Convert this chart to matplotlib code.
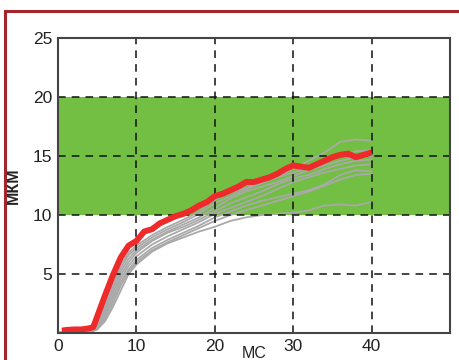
import matplotlib
matplotlib.use("Agg")
import matplotlib.pyplot as plt
from matplotlib.lines import Line2D

plt.rcParams['font.family'] = ['Liberation Sans', 'DejaVu Sans']

# ---- data ----
red_x = [0.5, 1, 2, 3, 4, 4.5, 5, 6, 7, 8, 9, 10, 11, 12, 13, 14, 15, 16, 17, 18, 19, 20,
         21, 22, 23, 24, 25, 26, 27, 28, 29, 30, 31, 32, 33, 34, 35, 36, 37, 38, 39, 40]
red_y = [0.2, 0.25, 0.3, 0.3, 0.4, 0.5, 1.4, 3.2, 4.9, 6.4, 7.4, 7.8, 8.6, 8.8, 9.3, 9.6, 9.9,
         10.1, 10.4, 10.8, 11.1, 11.6, 11.8, 12.1, 12.4, 12.8, 12.8, 13.0, 13.2, 13.5, 13.9,
         14.2, 14.1, 14.0, 14.3, 14.6, 14.9, 15.1, 15.2, 14.9, 15.1, 15.3]

grey_x = [0.3, 4, 5, 6, 7, 8, 9, 10, 12, 14, 16, 18, 20, 22, 24, 26, 28, 30, 32, 34, 36, 38, 40]
grey_1 = [0.1, 0.3, 0.9, 2.6, 4.3, 5.8, 6.8, 7.4, 8.3, 9.0, 9.6, 10.3, 11.3, 11.9, 12.3, 12.8, 13.3, 13.9, 14.6, 15.3, 16.2, 16.4, 16.3]
grey_2 = [0.05, 0.2, 0.7, 2.3, 4.0, 5.5, 6.6, 7.2, 8.1, 8.8, 9.4, 10.1, 11.0, 11.6, 12.2, 12.7, 13.2, 13.6, 14.0, 14.6, 15.1, 15.4, 15.5]
grey_3 = [0.0, 0.15, 0.6, 2.0, 3.7, 5.2, 6.3, 7.0, 7.9, 8.6, 9.2, 9.8, 10.6, 11.4, 12.0, 12.4, 12.8, 13.3, 13.8, 14.2, 14.6, 14.9, 15.0]
grey_4 = [0.0, 0.1, 0.5, 1.8, 3.4, 4.9, 6.0, 6.8, 7.8, 8.5, 9.0, 9.6, 10.3, 11.0, 11.5, 12.0, 12.6, 13.1, 13.4, 13.9, 14.3, 14.6, 14.7]
grey_5 = [0.0, 0.1, 0.4, 1.6, 3.1, 4.6, 5.7, 6.5, 7.5, 8.2, 8.8, 9.4, 10.1, 10.6, 11.1, 11.6, 12.2, 12.8, 13.2, 13.6, 13.9, 14.2, 14.3]
grey_6 = [0.0, 0.08, 0.35, 1.4, 2.8, 4.3, 5.4, 6.2, 7.2, 7.9, 8.5, 9.1, 9.8, 10.3, 10.8, 11.2, 11.5, 11.8, 12.1, 12.6, 13.4, 13.8, 13.7]
grey_7 = [0.0, 0.05, 0.3, 1.2, 2.5, 4.0, 5.2, 6.0, 7.0, 7.7, 8.3, 8.9, 9.5, 10.0, 10.4, 10.8, 11.2, 11.6, 12.0, 12.5, 13.0, 13.4, 13.5]
grey_8 = [0.0, 0.05, 0.3, 1.0, 2.2, 3.6, 5.0, 5.8, 6.9, 7.6, 8.1, 8.6, 9.0, 9.5, 9.8, 10.0, 10.1, 10.2, 10.4, 10.8, 10.9, 10.8, 11.1]
greys = [grey_1, grey_2, grey_3, grey_4, grey_5, grey_6, grey_7, grey_8]

band_low, band_high = 10, 20
x_ticks = [0, 10, 20, 30, 40]
y_ticks = [5, 10, 15, 20, 25]

# ---- figure ----
fig = plt.figure(figsize=(4.59, 3.60), dpi=100)
ax = fig.add_axes([58/459, 1-333/360, (450-58)/459, (333-38)/360])

ax.axhspan(band_low, band_high, color='#72BF44', zorder=0, lw=0)
for g in greys:
    ax.plot(grey_x, g, color='#A9A9A9', lw=1.3, zorder=2)
ax.plot(red_x, red_y, color='#EE2A2A', lw=4.3, zorder=3, solid_capstyle='butt')

ax.set_xlim(0, 50)
ax.set_ylim(0, 25)
ax.set_xticks(x_ticks)
ax.set_yticks(y_ticks)
ax.tick_params(length=0, labelsize=12.5, colors='#222222', pad=4)
ax.grid(True, color='#111111', ls=(0, (5, 4)), lw=1.1, zorder=1)
ax.set_axisbelow(False)
for s in ax.spines.values():
    s.set_color('#444444')
    s.set_linewidth(1.5)
    s.set_zorder(4)

ax.set_ylabel('МКМ', fontsize=11.5, fontweight='bold', color='#222222')
ax.yaxis.set_label_coords(-0.094, 0.5)
ax.set_xlabel('МС', fontsize=11.5, color='#222222', va='top')
ax.xaxis.set_label_coords(0.5, -0.045)

# red frame
fx = 5/459
fy = 1 - 11/360
fig.add_artist(Line2D([fx, fx], [0, fy], transform=fig.transFigure, color='#A3262C', lw=2.2))
fig.add_artist(Line2D([fx, 1], [fy, fy], transform=fig.transFigure, color='#A3262C', lw=2.2))

fig.savefig('out.png', dpi=100)
